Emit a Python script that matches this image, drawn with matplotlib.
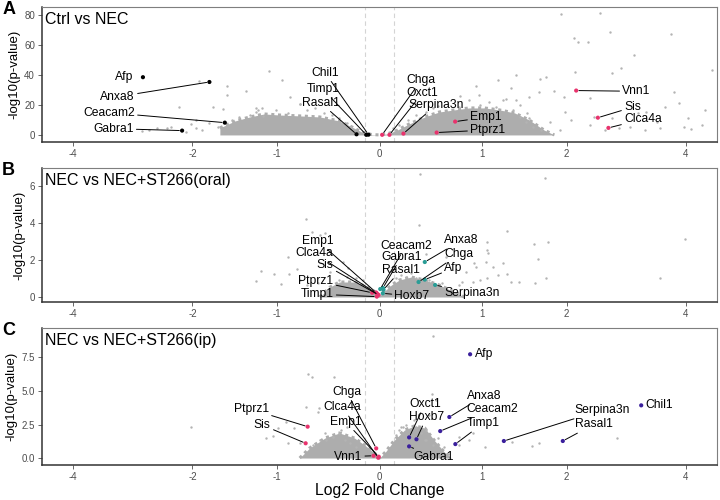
import numpy as np
import matplotlib
matplotlib.use('Agg')
import matplotlib.pyplot as plt
from matplotlib.ticker import FixedLocator, NullLocator

plt.rcParams['font.family'] = ['Liberation Sans', 'DejaVu Sans']

#############################################################################
# Panel A: Ctrl vs NEC
a_genes = ['Afp', 'Anxa8', 'Ceacam2', 'Gabra1', 'Chil1', 'Timp1', 'Rasal1',
           'Chga', 'Oxct1', 'Serpina3n', 'Emp1', 'Ptprz1', 'Vnn1', 'Sis', 'Clca4a']
a_fc = [-2.72, -1.78, -1.59, -2.14, -0.104, -0.125, -0.217,
        0.025, 0.094, 0.226, 0.728, 0.545, 2.13, 2.44, 2.60]
a_p = [38.5, 35.3, 8.2, 2.9, 0.2, 0.1, 0.45,
       0.1, 0.1, 0.9, 8.9, 1.6, 29.6, 11.5, 4.7]

a_bg_fc = [1.93, 2.47, 2.63, 3.70, 2.10, 2.16, 2.30, 3.02, 2.80, 2.66, 4.58, 2.11,
           1.18, 1.38, 1.66, 1.74, 0.94, 1.32, 1.84, 3.76, 0.78, 0.97, 1.26, 1.65,
           1.53, 1.96, 2.32, 3.86, 4.42, 3.58, 4.04, 4.34, 4.10, 3.96, 3.22, 3.08,
           3.42, 2.95, 3.48, 1.98, 2.06, 2.33, 2.54, 2.77, 3.20, 1.91, 1.78, 1.53,
           1.42, 2.39, 2.65,
           -1.09, -0.95, -1.34, -1.56, -1.56, -1.74, -2.18, -1.91, -1.61, -1.17,
           -1.21, -0.87, -0.77, -0.62, -2.36, -2.50, -2.30, -2.02, -1.95, -1.87,
           -2.09, -1.67, -1.95, -1.78, -1.42, -1.50, -1.23, -1.15, -2.62, -2.74,
           -1.30, -1.23, -1.01, -0.89, -0.77, -0.70, -0.53, -0.45, -0.38, -0.31,
           -0.27, 0.125, 0.188, 0.267, 0.347, 0.44, 0.51, 0.56, 0.77, 0.87, 0.98,
           1.08, 1.15, 1.23, 1.34, 1.42, 1.49, 1.57, 1.67, 1.51, 1.38]
a_bg_p = [80.7, 81.5, 68.9, 67.5, 64.5, 62.0, 61.8, 53.3, 44.9, 41.3, 43.3, 42.2,
          36.7, 39.8, 37.1, 38.5, 32.5, 31.3, 29.5, 28.9, 26.0, 26.7, 24.2, 28.9,
          25.1, 25.1, 24.5, 21.5, 16.9, 18.5, 11.3, 6.7, 3.8, 5.3, 15.5, 14.5,
          8.9, 5.5, 4.5, 15.3, 10.0, 6.7, 3.3, 4.7, 3.3, 3.3, 8.7, 11.3,
          20.0, 12.0, 11.3,
          42.7, 36.5, 29.3, 32.7, 26.7, 18.5, 18.9, 36.2, 17.1, 18.2,
          16.7, 25.5, 20.5, 17.8, 4.5, 4.5, 5.5, 7.3, 4.5, 3.3,
          2.2, 5.5, 10.0, 8.0, 12.2, 10.0, 15.5, 12.7, 3.3, 2.7,
          13.3, 17.8, 16.7, 14.5, 20.7, 16.7, 14.5, 13.3, 11.1, 7.8,
          5.5, 4.5, 6.7, 10.0, 13.3, 15.5, 17.8, 19.3, 18.9, 23.3, 20.0,
          22.2, 18.9, 23.3, 16.7, 12.2, 8.9, 5.5, 3.3, 14.5, 23.3]

# outline of the dense cloud of non-significant genes
a_cloud_fc = [-1.65, -1.47, -1.30, -1.14, -0.98, -0.77, -0.57, -0.38, -0.26, -0.17,
              -0.075, 0.0, 0.075, 0.17, 0.28, 0.43, 0.57, 0.72, 0.87, 1.03,
              1.19, 1.36, 1.53, 1.71, 1.84]
a_cloud_p = [4.7, 9.3, 12.0, 14.0, 13.3, 12.7, 12.0, 9.3, 5.3, 2.0,
             0.3, 0.0, 0.7, 3.3, 7.3, 12.0, 15.3, 16.7, 18.0, 18.0,
             16.7, 14.7, 10.0, 3.3, 0.0]

#############################################################################
# Panel B: NEC vs NEC+ST266(oral)
b_genes = ['Emp1', 'Clca4a', 'Sis', 'Ptprz1', 'Timp1', 'Ceacam2', 'Gabra1',
           'Rasal1', 'Hoxb7', 'Anxa8', 'Chga', 'Afp', 'Serpina3n']
b_fc = [-0.031, -0.019, -0.009, -0.069, -0.025, 0.007, 0.033,
        0.038, 0.031, 0.43, 0.37, 0.43, 0.53]
b_p = [0.24, 0.16, 0.11, 0.23, 0.02, 0.43, 0.49,
       0.40, 0.20, 1.89, 0.81, 0.94, 0.65]

b_bg_fc = [-0.71, -0.65, -0.57, -0.52, -0.89, -0.80, -0.88, -1.04, -0.96, -1.18,
           -1.23, -0.77, -0.70, -0.59, -0.47, -0.35, -0.30,
           0.38, 1.72, 0.37, 1.27, 3.98, 1.06, 1.59, 1.76, 1.07, 1.64, 1.23, 1.12,
           0.44, 0.64, 3.49, 1.74, 1.60, 1.41, 1.32, 1.28, 1.18, 1.06, 0.98, 0.91,
           0.84, 0.92, 0.77, 1.05, 1.06, 0.94, 0.80,
           -0.38, -0.31, -0.22, -0.157, 0.157, 0.205, 0.252, 0.30, 0.347, 0.47, 0.60]
b_bg_p = [4.20, 3.53, 3.35, 3.44, 2.18, 1.50, 1.23, 1.24, 0.69, 1.42,
          0.86, 0.92, 0.65, 0.74, 1.37, 1.91, 1.55,
          6.65, 6.45, 3.89, 3.57, 3.16, 2.97, 2.85, 2.96, 2.36, 2.03, 1.84, 1.64,
          2.31, 2.18, 1.04, 1.05, 0.77, 0.83, 0.82, 1.24, 1.19, 1.01, 0.92, 0.83,
          1.37, 1.82, 0.65, 1.91, 2.54, 1.64, 0.83,
          0.92, 1.10, 1.01, 0.92, 1.01, 1.19, 1.10, 1.28, 1.01, 0.92, 0.74]

b_cloud_fc = [-0.57, -0.47, -0.38, -0.236, -0.113, -0.038, 0.0, 0.038, 0.113,
              0.188, 0.30, 0.43, 0.57, 0.72, 0.82]
b_cloud_p = [0.0, 0.54, 0.81, 0.81, 0.54, 0.27, 0.05, 0.27, 0.65,
             0.92, 1.08, 0.92, 0.65, 0.27, 0.0]

#############################################################################
# Panel C: NEC vs NEC+ST266(ip)
c_genes = ['Ptprz1', 'Sis', 'Chga', 'Clca4a', 'Emp1', 'Vnn1', 'Oxct1', 'Hoxb7',
           'Gabra1', 'Afp', 'Anxa8', 'Ceacam2', 'Timp1', 'Serpina3n', 'Rasal1', 'Chil1']
c_fc = [-0.69, -0.71, -0.031, -0.012, -0.007, -0.056, 0.28, 0.35,
        0.28, 0.88, 0.67, 0.58, 0.73, 1.24, 1.95, 3.14]
c_p = [2.34, 1.10, 0.72, 0.02, 0.10, 0.17, 1.54, 1.40,
       0.87, 7.74, 3.06, 2.01, 1.04, 1.27, 1.27, 3.93]

c_bg_fc = [-2.02, -0.69, -0.65, -0.43, -0.71, -0.59, -0.91, -0.83, -0.99, -1.12,
           -1.05, -0.89, -0.77, -0.64, -0.57, -0.52, -0.44, -0.31, -0.36, -0.58,
           0.51, 0.33, 0.20, 0.50, 0.54, 0.47, 0.91, 1.04, 1.33, 1.56, 1.65, 2.74,
           0.44, 0.43, 0.56, 0.62, 0.77, 0.87, 0.77,
           -0.51, -0.44, -0.38, -0.33, -0.28, -0.22, 0.157, 0.188, 0.22, 0.252,
           0.347, 0.39, 0.44, 0.51]
c_bg_p = [2.34, 6.25, 6.07, 6.07, 3.83, 3.46, 2.71, 2.22, 2.22, 1.47,
          1.64, 1.14, 1.10, 0.97, 1.34, 1.84, 1.59, 2.34, 2.09, 3.75,
          9.13, 2.84, 2.34, 4.78, 4.33, 3.21, 1.84, 0.84, 1.22, 0.92, 1.10, 1.47,
          2.09, 1.34, 1.47, 0.84, 0.97, 1.34, 1.59,
          1.34, 1.59, 1.84, 1.34, 1.14, 0.84, 1.72, 2.09, 2.34, 2.46,
          2.34, 1.84, 1.34, 0.97]

c_cloud_fc = [-0.77, -0.67, -0.52, -0.38, -0.236, -0.141, -0.047, 0.0, 0.056,
              0.141, 0.236, 0.33, 0.43, 0.52, 0.62, 0.69]
c_cloud_p = [0.0, 0.75, 1.49, 1.87, 1.49, 0.97, 0.37, 0.0, 0.45,
             1.34, 2.09, 2.39, 2.24, 1.34, 0.45, 0.0]

#############################################################################
# label placement (x, y in data units)
a_lab = [(-2.88, 38.7), (-2.85, 25.5), (-2.85, 14.9), (-2.87, 4.2), (-0.385, 41.5),
         (-0.38, 30.5), (-0.38, 21.5), (0.258, 36.7), (0.258, 28.2), (0.27, 19.8),
         (0.88, 11.8), (0.88, 3.3), (2.82, 29.1), (2.85, 18.5), (2.85, 10.5)]
b_lab = [(-0.436, 3.03), (-0.436, 2.36), (-0.436, 1.73), (-0.436, 0.86),
         (-0.436, 0.15), (0.005, 2.76), (0.016, 2.18), (0.025, 1.46), (0.141, 0.05),
         (0.62, 3.06), (0.62, 2.31), (0.62, 1.55), (0.62, 0.2)]
c_lab = [(-1.09, 3.63), (-1.07, 2.46), (-0.172, 4.95), (-0.172, 3.78), (-0.172, 2.71),
         (-0.163, 0.1), (0.28, 4.03), (0.28, 3.04), (0.32, 0.07), (0.93, 7.74),
         (0.845, 4.63), (0.845, 3.63), (0.845, 2.59), (2.10, 3.58), (2.11, 2.51),
         (3.21, 3.98)]

grey = '#b3b3b3'
pink = '#e8336d'
teal = '#2a9d96'
indigo = '#3a1f9c'
fc_cut = 0.1375

panels = [
    dict(letter='A', title='Ctrl vs NEC', genes=a_genes, fc=a_fc, p=a_p,
         bg_fc=a_bg_fc, bg_p=a_bg_p, cl_fc=a_cloud_fc, cl_p=a_cloud_p, lab=a_lab,
         cols=('black', pink), ylim=(-4.7, 85.3), yt=[0, 20, 40, 60, 80],
         ytl=['0', '20', '40', '60', '80'], noseg=['Afp'],
         rect=[42 / 720, 1 - 142 / 500, 675 / 720, 135 / 500]),
    dict(letter='B', title='NEC vs NEC+ST266(oral)', genes=b_genes, fc=b_fc, p=b_p,
         bg_fc=b_bg_fc, bg_p=b_bg_p, cl_fc=b_cloud_fc, cl_p=b_cloud_p, lab=b_lab,
         cols=(pink, teal), ylim=(-0.27, 6.97), yt=[0, 2, 4, 6],
         ytl=['0', '2', '4', '6'], noseg=[],
         rect=[42 / 720, 1 - 302 / 500, 675 / 720, 134 / 500]),
    dict(letter='C', title='NEC vs NEC+ST266(ip)', genes=c_genes, fc=c_fc, p=c_p,
         bg_fc=c_bg_fc, bg_p=c_bg_p, cl_fc=c_cloud_fc, cl_p=c_cloud_p, lab=c_lab,
         cols=(pink, indigo), ylim=(-0.52, 9.7), yt=[0, 2.5, 5, 7.5],
         ytl=['0.0', '2.5', '5.0', '7.5'], noseg=['Afp', 'Chil1'],
         rect=[42 / 720, 1 - 465 / 500, 675 / 720, 137 / 500]),
]

fig = plt.figure(figsize=(7.2, 5.0), dpi=100)

for pn in panels:
    ax = fig.add_axes(pn['rect'])
    ax.set_xscale('asinh', linear_width=2)
    ax.set_xlim(-4.7, 4.7)
    ax.set_ylim(*pn['ylim'])

    ax.axvline(-fc_cut, color='#d4d4d4', lw=0.8, ls=(0, (4, 3)), zorder=1)
    ax.axvline(fc_cut, color='#d4d4d4', lw=0.8, ls=(0, (4, 3)), zorder=1)

    # dense cloud, edge drawn dotted so it looks like points
    ax.fill_between(pn['cl_fc'], 0, pn['cl_p'], color='#adadad', lw=0, zorder=2)
    ax.plot(pn['cl_fc'], pn['cl_p'], color='#adadad', lw=2.2, ls=(0, (1, 1.2)),
            zorder=2)
    ax.scatter(pn['bg_fc'], pn['bg_p'], s=3, color=grey, lw=0, zorder=2)

    cols = [pn['cols'][0] if f < 0 else pn['cols'][1] for f in pn['fc']]
    ax.scatter(pn['fc'], pn['p'], s=9, c=cols, lw=0, zorder=4)

    for g, f, p, (lx, ly) in zip(pn['genes'], pn['fc'], pn['p'], pn['lab']):
        ha = 'right' if f < 0 else 'left'
        if g in pn['noseg']:
            ax.text(lx, ly, g, ha=ha, va='center', fontsize=8.7, zorder=5)
        else:
            ax.annotate(g, xy=(f, p), xytext=(lx, ly), ha=ha, va='center',
                        fontsize=8.7, zorder=5,
                        arrowprops=dict(arrowstyle='-', color='black', lw=0.7,
                                        shrinkA=0, shrinkB=2))

    ax.text(0.004, 0.965, pn['title'], transform=ax.transAxes, ha='left',
            va='top', fontsize=11.5)

    ax.xaxis.set_major_locator(FixedLocator([-4, -2, -1, 0, 1, 2, 4]))
    ax.set_xticklabels(['-4', '-2', '-1', '0', '1', '2', '4'])
    ax.xaxis.set_minor_locator(NullLocator())
    ax.set_yticks(pn['yt'])
    ax.set_yticklabels(pn['ytl'])
    ax.tick_params(labelsize=7, colors='#4d4d4d', length=3, width=0.6, pad=2)

    for s in ['top', 'right']:
        ax.spines[s].set_color('#7f7f7f')
        ax.spines[s].set_linewidth(0.8)
    for s in ['left', 'bottom']:
        ax.spines[s].set_color('#333333')
        ax.spines[s].set_linewidth(1.1)

    ax.set_ylabel('-log10(p-value)', fontsize=9.5, labelpad=3)

    x0, y0, w, h = pn['rect']
    fig.text(0.003, y0 + h + 0.012, pn['letter'], fontsize=13,
             fontweight='bold', ha='left', va='top')

fig.text(380 / 720, 1 - 490 / 500, 'Log2 Fold Change', ha='center',
         va='center', fontsize=11.3)

fig.savefig('out.png', dpi=100)
